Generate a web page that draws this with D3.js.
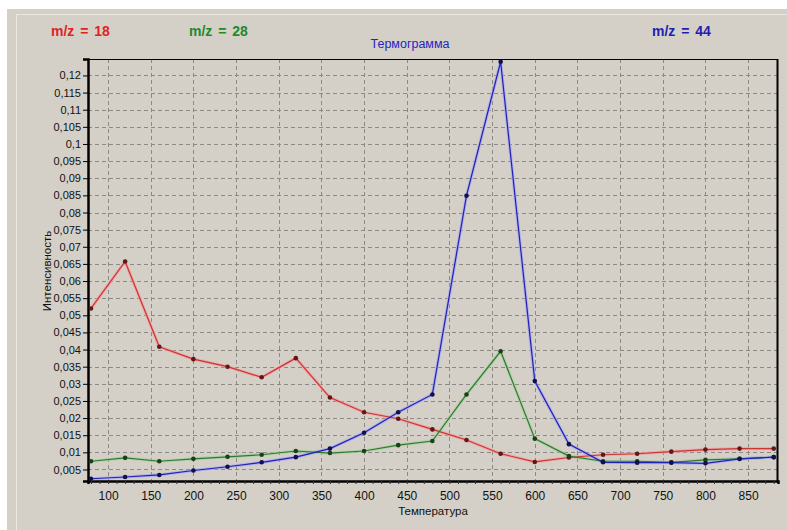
<!DOCTYPE html>
<html>
<head>
<meta charset="utf-8">
<script src="https://cdn.jsdelivr.net/npm/d3@7"></script>
<style>
  body { margin: 0; background: #fff; }
  text { font-family: "Liberation Sans", Arial, sans-serif; }
</style>
</head>
<body>
<svg id="chart" width="787" height="530"></svg>
<script>
// temperature steps (x) and intensities per m/z channel
const temps = [80, 120, 160, 200, 240, 280, 320, 360, 400, 440, 480, 520, 560, 600, 640, 680, 720, 760, 800, 840, 880]
const mz18 = [0.052, 0.0657, 0.0408, 0.0372, 0.035, 0.0319, 0.0375, 0.026, 0.0217, 0.0198, 0.0167, 0.0136, 0.0096, 0.0072, 0.0085, 0.0093, 0.0096, 0.0102, 0.0108, 0.0111, 0.0111]
const mz28 = [0.0074, 0.0084, 0.0074, 0.0081, 0.0087, 0.0093, 0.0104, 0.0098, 0.0104, 0.0121, 0.0133, 0.0269, 0.0395, 0.014, 0.0089, 0.0074, 0.0074, 0.0071, 0.0078, 0.0081, 0.0086]
const mz44 = [0.0023, 0.0028, 0.0034, 0.0047, 0.0058, 0.0071, 0.0086, 0.0111, 0.0157, 0.0217, 0.0269, 0.0849, 0.124, 0.0308, 0.0124, 0.0071, 0.007, 0.007, 0.0068, 0.0081, 0.0086]

const xTicks = [100, 150, 200, 250, 300, 350, 400, 450, 500, 550, 600, 650, 700, 750, 800, 850]
const yTicks = [0.005, 0.01, 0.015, 0.02, 0.025, 0.03, 0.035, 0.04, 0.045, 0.05, 0.055, 0.06,
  0.065, 0.07, 0.075, 0.08, 0.085, 0.09, 0.095, 0.1, 0.105, 0.11, 0.115, 0.12]

const series = [
  { name: "m/z = 18", values: mz18, color: "#cc3333", halo: "#f2a0a0", dot: "#5e1818", label: "#e02222", lx: 51 },
  { name: "m/z = 28", values: mz28, color: "#2f7a2f", halo: "#a8d0a0", dot: "#1b3f1b", label: "#23892a", lx: 189 },
  { name: "m/z = 44", values: mz44, color: "#2020b4", halo: "#a8a8f0", dot: "#10104a", label: "#1e1eb0", lx: 652 }
]

const svg = d3.select("#chart")
const plotLeft = 88, plotRight = 778, plotTop = 59, plotBottom = 481

// window background
svg.append("rect").attr("width", 787).attr("height", 530).attr("fill", "#fff")
svg.append("rect").attr("x", 7).attr("y", 9).attr("width", 780).attr("height", 521).attr("fill", "#d4d0c8")
svg.append("path")
  .attr("d", "M16.5,530V14.5H787")
  .attr("fill", "none")
  .attr("stroke", "#ebe8e2")
  .attr("stroke-width", 1)

const x = d3.scaleLinear().domain([76.5, 885]).range([plotLeft, plotRight])
const y = d3.scaleLinear().domain([0.00164, 0.1248]).range([plotBottom, plotTop])

// grid
svg.append("g")
  .selectAll("line")
  .data(yTicks)
  .enter()
  .append("line")
  .attr("x1", plotLeft)
  .attr("x2", plotRight)
  .attr("y1", (d) => Math.round(y(d)) + 0.5)
  .attr("y2", (d) => Math.round(y(d)) + 0.5)
  .attr("stroke", "#8c8a86")
  .attr("stroke-dasharray", "4,3")

svg.append("g")
  .selectAll("line")
  .data(xTicks)
  .enter()
  .append("line")
  .attr("x1", (d) => Math.round(x(d)) + 0.5)
  .attr("x2", (d) => Math.round(x(d)) + 0.5)
  .attr("y1", plotTop)
  .attr("y2", plotBottom)
  .attr("stroke", "#8c8a86")
  .attr("stroke-dasharray", "4,3")

// frame
svg.append("line").attr("x1", plotLeft).attr("x2", plotRight).attr("y1", plotTop + 0.5).attr("y2", plotTop + 0.5).attr("stroke", "#000")
svg.append("line").attr("x1", plotRight - 0.5).attr("x2", plotRight - 0.5).attr("y1", plotTop).attr("y2", plotBottom).attr("stroke", "#000").attr("stroke-width", 2)

// axes
const yAxis = d3.axisLeft(y)
  .tickValues(yTicks)
  .tickSize(5)
  .tickPadding(2)
  .tickFormat((d) => String(+d.toFixed(3)).replace(".", ","))

const gy = svg.append("g").attr("transform", `translate(${plotLeft},0)`).call(yAxis)
gy.select(".domain").attr("stroke-width", 2.5)
gy.selectAll("text").attr("font-size", 11).attr("fill", "#111")

const xAxis = d3.axisBottom(x)
  .tickValues(d3.range(80, 881, 10))
  .tickSize(3)
  .tickFormat((d) => (xTicks.includes(d) ? d : ""))

const gx = svg.append("g").attr("transform", `translate(0,${plotBottom})`).call(xAxis)
gx.select(".domain").attr("stroke-width", 2.5)
gx.selectAll(".tick line").attr("stroke", "#333")
gx.selectAll("text").attr("font-size", 12).attr("fill", "#111").attr("dy", "1.05em")

// series
const line = d3.line()
  .x((d, i) => x(temps[i]))
  .y((d) => y(d))

series.forEach((s) => {
  svg.append("path")
    .datum(s.values)
    .attr("d", line)
    .attr("fill", "none")
    .attr("stroke", s.halo)
    .attr("stroke-width", 3.2)
    .attr("stroke-opacity", 0.75)
})

series.forEach((s) => {
  svg.append("path")
    .datum(s.values)
    .attr("d", line)
    .attr("fill", "none")
    .attr("stroke", s.color)
    .attr("stroke-width", 1.2)

  svg.append("g")
    .selectAll("circle")
    .data(s.values)
    .enter()
    .append("circle")
    .attr("cx", (d, i) => x(temps[i]))
    .attr("cy", (d) => y(d))
    .attr("r", 2.3)
    .attr("fill", s.dot)
})

// labels
svg.append("g")
  .selectAll("text")
  .data(series)
  .enter()
  .append("text")
  .attr("x", (d) => d.lx)
  .attr("y", 36)
  .attr("font-size", 14)
  .attr("font-weight", "bold")
  .attr("word-spacing", 2)
  .attr("fill", (d) => d.label)
  .text((d) => d.name)

svg.append("text")
  .attr("x", 410)
  .attr("y", 48)
  .attr("text-anchor", "middle")
  .attr("font-size", 12.5)
  .attr("fill", "#2424c4")
  .text("Термограмма")

svg.append("text")
  .attr("x", (plotLeft + plotRight) / 2)
  .attr("y", 515)
  .attr("text-anchor", "middle")
  .attr("font-size", 11.5)
  .attr("fill", "#111")
  .text("Температура")

svg.append("text")
  .attr("transform", "translate(51,271) rotate(-90)")
  .attr("text-anchor", "middle")
  .attr("font-size", 11.5)
  .attr("fill", "#111")
  .text("Интенсивность")
</script>
</body>
</html>
